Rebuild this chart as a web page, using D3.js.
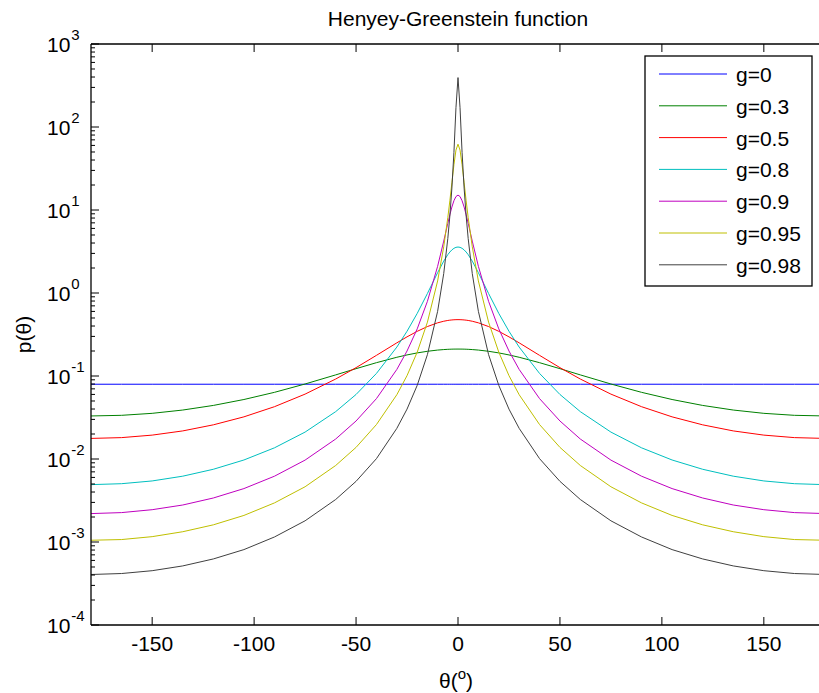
<!DOCTYPE html>
<html>
<head>
<meta charset="utf-8">
<script src="https://cdn.jsdelivr.net/npm/d3@7"></script>
<style>
  body { margin: 0; background: #fff; }
  text { font-family: Arial, "Liberation Sans", Helvetica, sans-serif; fill: #000; }
</style>
</head>
<body>
<svg width="819" height="693"></svg>
<script>
// scattering angle in degrees
const angles = [-180, -165, -150, -135, -120, -105, -90, -75, -60, -50, -40, -30, -25, -20, -15, -10, -7, -5, -4, -3, -2, -1,
  0, 1, 2, 3, 4, 5, 7, 10, 15, 20, 25, 30, 40, 50, 60, 75, 90, 105, 120, 135, 150, 165, 180]

// p(theta), one list per g
const g0 = [0.0796, 0.0796, 0.0796, 0.0796, 0.0796, 0.0796, 0.0796, 0.0796, 0.0796, 0.0796, 0.0796, 0.0796, 0.0796, 0.0796, 0.0796, 0.0796, 0.0796, 0.0796, 0.0796, 0.0796, 0.0796, 0.0796,
  0.0796, 0.0796, 0.0796, 0.0796, 0.0796, 0.0796, 0.0796, 0.0796, 0.0796, 0.0796, 0.0796, 0.0796, 0.0796, 0.0796, 0.0796, 0.0796, 0.0796, 0.0796, 0.0796, 0.0796, 0.0796, 0.0796, 0.0796]
const g03 = [0.0330, 0.0336, 0.0355, 0.0389, 0.0442, 0.0521, 0.0636, 0.0801, 0.1031, 0.1225, 0.1447, 0.1681, 0.1794, 0.1897, 0.1985, 0.2053, 0.2082, 0.2096, 0.2102, 0.2106, 0.2109, 0.2110,
  0.2111, 0.2110, 0.2109, 0.2106, 0.2102, 0.2096, 0.2082, 0.2053, 0.1985, 0.1897, 0.1794, 0.1681, 0.1447, 0.1225, 0.1031, 0.0801, 0.0636, 0.0521, 0.0442, 0.0389, 0.0355, 0.0336, 0.0330]
const g05 = [0.0177, 0.0181, 0.0194, 0.0218, 0.0258, 0.0322, 0.0427, 0.0605, 0.0919, 0.1261, 0.1773, 0.2509, 0.2962, 0.3453, 0.3942, 0.4371, 0.4569, 0.4668, 0.4706, 0.4736, 0.4758, 0.4771,
  0.4775, 0.4771, 0.4758, 0.4736, 0.4706, 0.4668, 0.4569, 0.4371, 0.3942, 0.3453, 0.2962, 0.2509, 0.1773, 0.1261, 0.0919, 0.0605, 0.0427, 0.0322, 0.0258, 0.0218, 0.0194, 0.0181, 0.0177]
const g08 = [0.00491, 0.00504, 0.00544, 0.00621, 0.00752, 0.00973, 0.01364, 0.0211, 0.0372, 0.0599, 0.1074, 0.223, 0.346, 0.568, 0.986, 1.757, 2.421, 2.896, 3.115, 3.306, 3.454, 3.549,
  3.581, 3.549, 3.454, 3.306, 3.115, 2.896, 2.421, 1.757, 0.986, 0.568, 0.346, 0.223, 0.1074, 0.0599, 0.0372, 0.0211, 0.01364, 0.00973, 0.00752, 0.00621, 0.00544, 0.00504, 0.00491]
const g09 = [0.00220, 0.00226, 0.00245, 0.00279, 0.00339, 0.00440, 0.00621, 0.0097, 0.0174, 0.0287, 0.0534, 0.120, 0.200, 0.370, 0.794, 2.095, 4.219, 6.914, 8.764, 10.86, 12.94, 14.52,
  15.12, 14.52, 12.94, 10.86, 8.764, 6.914, 4.219, 2.095, 0.794, 0.370, 0.200, 0.120, 0.0534, 0.0287, 0.0174, 0.0097, 0.00621, 0.00440, 0.00339, 0.00279, 0.00245, 0.00226, 0.00220]
const g095 = [0.00105, 0.00107, 0.00116, 0.00133, 0.00161, 0.00209, 0.00296, 0.00463, 0.00835, 0.0138, 0.0260, 0.0595, 0.101, 0.194, 0.445, 1.397, 3.607, 8.084, 12.89, 21.28, 35.08, 52.67,
  62.07, 52.67, 35.08, 21.28, 12.89, 8.084, 3.607, 1.397, 0.445, 0.194, 0.101, 0.0595, 0.0260, 0.0138, 0.00835, 0.00463, 0.00296, 0.00209, 0.00161, 0.00133, 0.00116, 0.00107, 0.00105]
const g098 = [0.000406, 0.000417, 0.000451, 0.000515, 0.000625, 0.00081, 0.00115, 0.00180, 0.00325, 0.00538, 0.0101, 0.0234, 0.0399, 0.0772, 0.181, 0.601, 1.714, 4.524, 8.466, 18.39, 49.54, 170.7,
  393.9, 170.7, 49.54, 18.39, 8.466, 4.524, 1.714, 0.601, 0.181, 0.0772, 0.0399, 0.0234, 0.0101, 0.00538, 0.00325, 0.00180, 0.00115, 0.00081, 0.000625, 0.000515, 0.000451, 0.000417, 0.000406]

const seriesNames = ['g=0', 'g=0.3', 'g=0.5', 'g=0.8', 'g=0.9', 'g=0.95', 'g=0.98']
const seriesValues = [g0, g03, g05, g08, g09, g095, g098]
const seriesColors = ['#0000ff', '#008000', '#ff0000', '#00bfbf', '#bf00bf', '#bfbf00', '#404040']

const xTicks = [-150, -100, -50, 0, 50, 100, 150]
const yDecades = [-4, -3, -2, -1, 0, 1, 2, 3]

// plot box (right edge runs past the window, as in the picture)
const boxLeft = 91, boxRight = 825, boxTop = 44, boxBottom = 625
const majorTick = 8, minorTick = 4
const fontSize = 21, supSize = 15

const svg = d3.select('svg')
const x = d3.scaleLinear().domain([-180, 180]).range([boxLeft, boxRight])
const y = d3.scaleLog().domain([1e-4, 1e3]).range([boxBottom, boxTop])

svg.append('clipPath').attr('id', 'plot')
  .append('rect').attr('x', boxLeft).attr('y', boxTop).attr('width', boxRight - boxLeft).attr('height', boxBottom - boxTop)

// curves
const line = d3.line().x((d) => x(d[0])).y((d) => y(d[1]))
svg.append('g').attr('clip-path', 'url(#plot)')
  .selectAll('path')
  .data(seriesValues)
  .enter()
  .append('path')
  .attr('d', (vals) => line(vals.map((v, i) => [angles[i], v])))
  .attr('fill', 'none')
  .attr('stroke', (_, i) => seriesColors[i])
  .attr('stroke-width', 1)

// box
const axes = svg.append('g').attr('stroke', '#000').attr('stroke-width', 1.3)
axes.append('line').attr('x1', boxLeft).attr('x2', boxRight).attr('y1', boxBottom).attr('y2', boxBottom)
axes.append('line').attr('x1', boxLeft).attr('x2', boxRight).attr('y1', boxTop).attr('y2', boxTop)
axes.append('line').attr('x1', boxLeft).attr('x2', boxLeft).attr('y1', boxTop).attr('y2', boxBottom)

// x ticks, inward on bottom and top
xTicks.forEach((t) => {
  axes.append('line').attr('x1', x(t)).attr('x2', x(t)).attr('y1', boxBottom).attr('y2', boxBottom - majorTick).attr('stroke-width', 1)
  axes.append('line').attr('x1', x(t)).attr('x2', x(t)).attr('y1', boxTop).attr('y2', boxTop + majorTick).attr('stroke-width', 1)
})
svg.append('g').selectAll('text')
  .data(xTicks)
  .enter()
  .append('text')
  .attr('x', (d) => x(d))
  .attr('y', boxBottom + 26)
  .attr('text-anchor', 'middle')
  .attr('font-size', fontSize)
  .text((d) => d)

// y ticks: decades plus 2..9 minor ticks
yDecades.forEach((e) => {
  const v = Math.pow(10, e)
  axes.append('line').attr('x1', boxLeft).attr('x2', boxLeft + majorTick).attr('y1', y(v)).attr('y2', y(v)).attr('stroke-width', 1)
  if (e < 3) {
    d3.range(2, 10).forEach((m) => {
      axes.append('line').attr('x1', boxLeft).attr('x2', boxLeft + minorTick)
        .attr('y1', y(m * v)).attr('y2', y(m * v)).attr('stroke-width', 1)
    })
  }
  const lbl = svg.append('text').attr('x', 47).attr('y', y(v) + 8).attr('font-size', fontSize)
  lbl.append('tspan').text('10')
  lbl.append('tspan').attr('dx', 1).attr('dy', -12).attr('font-size', supSize).text(e)
})

// title and axis labels
svg.append('text').attr('x', 458).attr('y', 26).attr('text-anchor', 'middle')
  .attr('font-size', fontSize).text('Henyey-Greenstein function')

const xl = svg.append('text').attr('x', 456).attr('y', 688).attr('text-anchor', 'middle').attr('font-size', fontSize)
xl.append('tspan').text('θ(')
xl.append('tspan').attr('dy', -9).attr('font-size', supSize).text('o')
xl.append('tspan').attr('dy', 9).text(')')

svg.append('text').attr('transform', `translate(31, ${(boxTop + boxBottom) / 2}) rotate(-90)`)
  .attr('text-anchor', 'middle').attr('font-size', fontSize).text('p(θ)')

// legend
const legend = svg.append('g').attr('transform', 'translate(645, 56)')
legend.append('rect').attr('width', 167).attr('height', 230).attr('fill', '#fff').attr('stroke', '#000').attr('stroke-width', 1.3)
seriesNames.forEach((name, i) => {
  const ly = 18 + i * 31.8
  legend.append('line').attr('x1', 14).attr('x2', 82).attr('y1', ly).attr('y2', ly)
    .attr('stroke', seriesColors[i]).attr('stroke-width', 1)
  legend.append('text').attr('x', 91).attr('y', ly + 8).attr('font-size', fontSize).text(name)
})
</script>
</body>
</html>
